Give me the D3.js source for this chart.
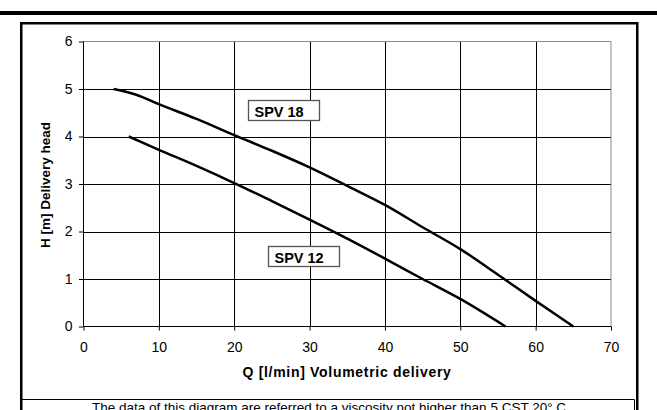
<!DOCTYPE html>
<html><head><meta charset="utf-8">
<script src="https://cdn.jsdelivr.net/npm/d3@7"></script>
<style>body{margin:0;background:#fff}svg{display:block}text{font-family:"Liberation Sans",Arial,sans-serif}</style>
</head><body>
<svg id="c" width="657" height="410"></svg>
<script>
const xTicks = [0,10,20,30,40,50,60,70];
const yTicks = [0,1,2,3,4,5,6];
const spv18X = [4,7,10,15,20,25,30,35,40,45,50,55,60,65];
const spv18Y = [5.0,4.88,4.68,4.37,4.03,3.7,3.35,2.96,2.56,2.09,1.63,1.09,0.54,0];
const spv12X = [6,10,15,20,25,30,35,40,45,50,56];
const spv12Y = [4.0,3.72,3.38,3.02,2.64,2.25,1.85,1.43,1.0,0.58,0];
const seriesNames = ["SPV 18","SPV 12"];
const xTitle = "Q [l/min] Volumetric delivery";
const yTitle = "H [m] Delivery head";
const footer = "The data of this diagram are referred to a viscosity not higher than 5 CST 20° C";

const svg = d3.select("#c");
const x = d3.scaleLinear().domain([0,70]).range([83.5,611]);
const y = d3.scaleLinear().domain([0,6]).range([326.5,41.5]);

// top rule
svg.append("rect").attr("x",0).attr("y",11).attr("width",657).attr("height",4).attr("fill","#000");
// outer frame
svg.append("path").attr("d","M21.25,420 V23.25 H637.25 V420").attr("fill","none").attr("stroke","#000").attr("stroke-width",2.5);
// footer box
svg.append("path").attr("d","M22,399.5 H634.5 V420").attr("fill","none").attr("stroke","#000").attr("stroke-width",1);

// grid
const g = svg.append("g");
xTicks.slice(1,-1).forEach(t=>g.append("line").attr("x1",Math.round(x(t))+0.5).attr("x2",Math.round(x(t))+0.5).attr("y1",y(6)).attr("y2",y(0)).attr("stroke","#000").attr("stroke-width",1));
yTicks.slice(1,-1).forEach(t=>g.append("line").attr("x1",x(0)).attr("x2",x(70)).attr("y1",Math.round(y(t))+0.5).attr("y2",Math.round(y(t))+0.5).attr("stroke","#000").attr("stroke-width",1));
// gray top/right border
g.append("line").attr("x1",x(0)).attr("x2",x(70)).attr("y1",y(6)).attr("y2",y(6)).attr("stroke","#888");
g.append("line").attr("x1",x(70)).attr("x2",x(70)).attr("y1",y(6)).attr("y2",y(0)).attr("stroke","#888");

// axes
const xa = svg.append("g").attr("transform",`translate(0,${y(0)})`)
  .call(d3.axisBottom(x).tickValues(xTicks).tickFormat(d3.format("d")).tickSize(4).tickPadding(11.5));
const ya = svg.append("g").attr("transform",`translate(${x(0)},0)`)
  .call(d3.axisLeft(y).tickValues(yTicks).tickFormat(d3.format("d")).tickSize(4.5).tickPadding(6.5));
[xa,ya].forEach(a=>{a.selectAll("path,line").attr("stroke","#000");a.selectAll("text").attr("font-size",14).attr("fill","#000").attr("font-family","Liberation Sans, Arial, sans-serif");});
xa.select(".domain").attr("d",`M${x(0)},0H${x(70)}`);
ya.select(".domain").attr("d",`M0,${y(0)}V${y(6)}`);

// curves
const line = d3.line().x(d=>x(d[0])).y(d=>y(d[1])).curve(d3.curveCatmullRom);
[[spv18X,spv18Y],[spv12X,spv12Y]].forEach(([xs,ys])=>{
  svg.append("path").attr("d",line(xs.map((v,i)=>[v,ys[i]]))).attr("fill","none").attr("stroke","#000").attr("stroke-width",2.5);
});

// labels
function label(txt, x0, y0, w, h){
  svg.append("rect").attr("x",x0).attr("y",y0).attr("width",w).attr("height",h).attr("fill","#fff").attr("stroke","#555").attr("stroke-width",1.3);
  svg.append("text").attr("x",x0+6).attr("y",y0+16).attr("font-size",14.5).attr("font-weight","bold").text(txt);
}
label(seriesNames[0], 248.5, 100.5, 71, 20);
label(seriesNames[1], 268.5, 246.5, 71, 20);

// titles
svg.append("text").attr("x",347).attr("y",377).attr("text-anchor","middle").attr("font-size",14).attr("font-weight","bold").attr("letter-spacing",0.7).text(xTitle);
svg.append("text").attr("transform","translate(50,185) rotate(-90)").attr("text-anchor","middle").attr("font-size",13.5).attr("font-weight","bold").text(yTitle);
svg.append("text").attr("x",329).attr("y",412).attr("text-anchor","middle").attr("font-size",13.5).text(footer);
</script>
</body></html>
